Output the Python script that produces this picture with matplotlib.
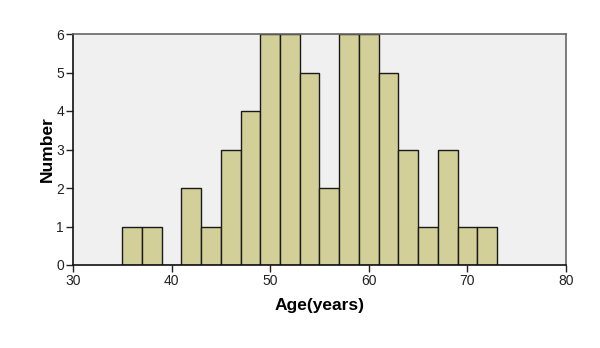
import matplotlib
matplotlib.use("Agg")
import matplotlib.pyplot as plt
import numpy as np

plt.rcParams['font.family'] = ['Liberation Sans', 'DejaVu Sans']

bin_left = [35, 37, 39, 41, 43, 45, 47, 49, 51, 53, 55, 57, 59, 61, 63, 65, 67, 69, 71]
counts = [1, 1, 0, 2, 1, 3, 4, 6, 6, 5, 2, 6, 6, 5, 3, 1, 3, 1, 1]
bin_width = 2
xticks = [30, 40, 50, 60, 70, 80]
yticks = [0, 1, 2, 3, 4, 5, 6]

fig = plt.figure(figsize=(6, 3.48), dpi=100)
ax = fig.add_axes([73/600, 1-265/348, (566-73)/600, (265-34)/348])
ax.set_facecolor("#F0F0F0")
ax.bar(bin_left, counts, width=bin_width, align="edge", color="#D3CF98",
       edgecolor="#1a1a1a", linewidth=1.0, zorder=2)
ax.set_xlim(30, 80)
ax.set_ylim(0, 6)
ax.set_xticks(xticks)
ax.set_yticks(yticks)
ax.tick_params(labelsize=10, length=5, width=1, colors="#222222", pad=1.5)
for s in ["left", "bottom"]:
    ax.spines[s].set_color("#111111")
    ax.spines[s].set_linewidth(1.2)
for s in ["top", "right"]:
    ax.spines[s].set_color("#666666")
    ax.spines[s].set_linewidth(1.2)
ax.set_xlabel("Age(years)", fontsize=12.5, fontweight="bold", labelpad=7)
ax.set_ylabel("Number", fontsize=12.5, fontweight="bold", labelpad=1)
fig.savefig("out.png", dpi=100, facecolor="white")
